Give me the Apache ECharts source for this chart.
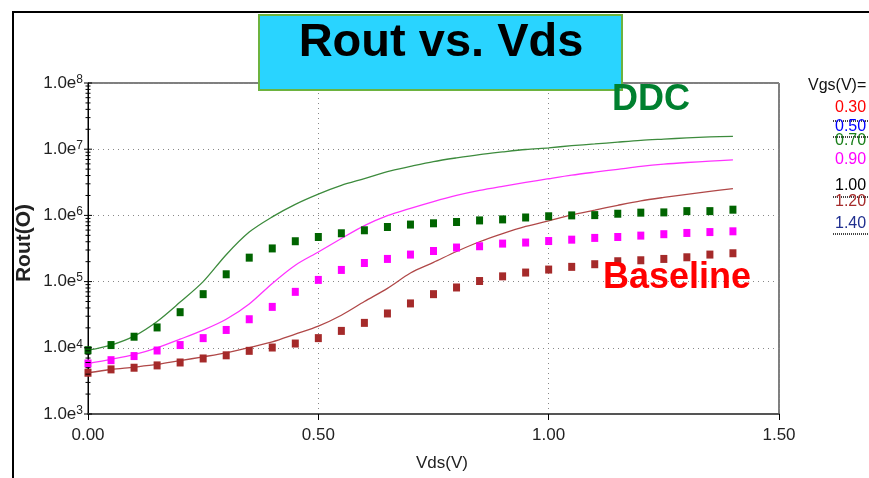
<!DOCTYPE html>
<html>
<head>
<meta charset="utf-8">
<script src="https://cdn.jsdelivr.net/npm/echarts@6/dist/echarts.min.js"></script>
<style>html,body{margin:0;padding:0;background:#fff}#c{width:869px;height:478px}</style>
</head>
<body>
<div id="c"></div>
<script>
// ---- data ----
const vds = [0.00,0.05,0.10,0.15,0.20,0.25,0.30,0.35,0.40,0.45,0.50,0.55,0.60,0.65,0.70,0.75,0.80,0.85,0.90,0.95,1.00,1.05,1.10,1.15,1.20,1.25,1.30,1.35,1.40];
// DDC (lines)
const ddc070 = [9.2e3,1.1e4,1.5e4,2.5e4,4.9e4,1.0e5,2.55e5,5.6e5,9.5e5,1.47e6,2.1e6,2.84e6,3.6e6,4.6e6,5.5e6,6.5e6,7.4e6,8.3e6,9.1e6,9.9e6,1.05e7,1.13e7,1.2e7,1.28e7,1.36e7,1.42e7,1.48e7,1.53e7,1.56e7];
const ddc090 = [5.8e3,6.7e3,7.9e3,1.0e4,1.35e4,1.85e4,2.7e4,4.6e4,9.4e4,1.77e5,2.8e5,4.47e5,7.0e5,9.9e5,1.28e6,1.62e6,2.0e6,2.38e6,2.75e6,3.15e6,3.58e6,4.05e6,4.5e6,4.97e6,5.5e6,5.95e6,6.3e6,6.6e6,6.9e6];
const ddc120 = [4.2e3,4.7e3,5.1e3,5.6e3,6.4e3,7.3e3,8.4e3,1.01e4,1.23e4,1.61e4,2.12e4,3.1e4,5.0e4,7.9e4,1.35e5,1.95e5,2.85e5,4.0e5,5.3e5,6.8e5,8.3e5,1.02e6,1.2e6,1.42e6,1.66e6,1.87e6,2.08e6,2.3e6,2.54e6];
// Baseline (squares)
const base070 = [9.2e3,1.1e4,1.47e4,2.03e4,3.45e4,6.46e4,1.29e5,2.3e5,3.17e5,4.07e5,4.72e5,5.37e5,5.96e5,6.68e5,7.27e5,7.6e5,7.95e5,8.4e5,8.7e5,9.3e5,9.7e5,1.0e6,1.01e6,1.06e6,1.1e6,1.11e6,1.16e6,1.16e6,1.22e6];
const base090 = [5.8e3,6.5e3,7.5e3,9.1e3,1.1e4,1.4e4,1.86e4,2.7e4,4.15e4,7.0e4,1.06e5,1.5e5,1.91e5,2.2e5,2.56e5,2.9e5,3.27e5,3.42e5,3.75e5,3.89e5,4.1e5,4.3e5,4.57e5,4.72e5,4.95e5,5.2e5,5.43e5,5.6e5,5.75e5];
const base120 = [4.2e3,4.72e3,5.0e3,5.42e3,6.0e3,6.9e3,7.7e3,9.0e3,1.01e4,1.16e4,1.4e4,1.8e4,2.38e4,3.3e4,4.68e4,6.46e4,8.15e4,1.02e5,1.2e5,1.37e5,1.52e5,1.67e5,1.83e5,2.03e5,2.1e5,2.2e5,2.33e5,2.56e5,2.68e5];
// legend
const vgsLabels = ['0.30','0.50','0.70','0.90','1.00','1.20','1.40'];
const vgsColors = ['#ff0000','#0000ff','#1a7f1a','#ff00ff','#000000','#a52a2a','#1f2f8f'];
// axis ticks
const xTicks = [0.00,0.50,1.00,1.50];
const yDecades = [3,4,5,6,7,8];

const FONT = "'Liberation Sans', Arial, sans-serif";
const pair = (xs, ys) => xs.map((x,i)=>[x, ys[i]]);

// log-spaced tick marks for the y axis (axis decoration)
const yTickMarks = [];
for (let d = 3; d < 8; d++) for (let k = 1; k <= 9; k++) yTickMarks.push([0, k*Math.pow(10,d), k===1?1:0]);
yTickMarks.push([0, 1e8, 1]);

const chart = echarts.init(document.getElementById('c'), null, {renderer:'canvas'});

const lineS = (name, data, color) => ({
  type:'line', name, data: pair(vds, data), symbol:'none', smooth:0.3,
  lineStyle:{color, width:1.3}, z:3, silent:true
});
const sqS = (name, data, color) => ({
  type:'scatter', name, data: pair(vds, data), symbol:'rect', symbolSize:[7,8],
  itemStyle:{color, opacity:1}, z:4, silent:true
});

const option = {
  animation:false,
  backgroundColor:'#ffffff',
  grid:{left:88, right:90, top:83, bottom:64, show:true, borderColor:'#000', borderWidth:1, backgroundColor:'transparent'},
  xAxis:{
    type:'value', min:0, max:1.5, interval:0.5,
    axisLine:{show:true, onZero:false, lineStyle:{color:'#555', width:2}},
    axisTick:{show:true, length:6, lineStyle:{color:'#000'}},
    axisLabel:{fontFamily:FONT, fontSize:17, color:'#222', margin:13,
      formatter: v => xTicks.includes(v) ? v.toFixed(2) : ''},
    splitLine:{show:true, lineStyle:{color:'#888', type:[1,4], width:1}}
  },
  yAxis:{
    type:'log', logBase:10, min:1e3, max:1e8,
    axisLine:{show:true, lineStyle:{color:'#000', width:1}},
    axisTick:{show:false},
    minorTick:{show:false},
    axisLabel:{margin:5, formatter: v => '{a|1.0e}{b|' + Math.round(Math.log10(v)) + '}',
      rich:{a:{fontFamily:FONT, fontSize:17, color:'#222'}, b:{fontFamily:FONT, fontSize:12, color:'#222', padding:[0,0,7,0]}}},
    splitLine:{show:true, lineStyle:{color:'#888', type:[1,4], width:1}}
  },
  series:[
    lineS('DDC 0.70', ddc070, '#3d8b3d'),
    lineS('DDC 0.90', ddc090, '#ff33ff'),
    lineS('DDC 1.20', ddc120, '#b04848'),
    sqS('Baseline 0.70', base070, '#006400'),
    sqS('Baseline 0.90', base090, '#ff00ff'),
    sqS('Baseline 1.20', base120, '#a52a2a'),
    {
      type:'custom', data: yTickMarks, clip:false, z:5, silent:true,
      renderItem:(params, api) => {
        const p = api.coord([0, api.value(1)]);
        const h = api.value(2) ? 4 : 2.5;
        return {type:'line', shape:{x1:p[0]-h, y1:p[1], x2:p[0]+h, y2:p[1]}, style:{stroke:'#000', lineWidth:1}};
      }
    }
  ],
  graphic:[]
};
chart.setOption(option);

// decorations
const g = [];
g.push({type:'polyline', shape:{points:[[13,478],[13,12],[869,12]]}, style:{stroke:'#000', lineWidth:2, fill:null}, z:10});
g.push({type:'rect', shape:{x:259, y:15, width:363, height:75}, style:{fill:'#29d4ff', stroke:'#6db33f', lineWidth:2}, z:20});
g.push({type:'text', x:441, y:43, style:{text:'Rout vs. Vds', font:"bold 47px "+FONT, fill:'#000', textAlign:'center', textVerticalAlign:'middle'}, z:21});
g.push({type:'text', x:651, y:100, style:{text:'DDC', font:"bold 36px "+FONT, fill:'#00802f', textAlign:'center', textVerticalAlign:'middle'}, z:21});
g.push({type:'text', x:677, y:278, style:{text:'Baseline', font:"bold 36px "+FONT, fill:'#ff0000', textAlign:'center', textVerticalAlign:'middle'}, z:21});
g.push({type:'text', x:442, y:463, style:{text:'Vds(V)', font:"17px "+FONT, fill:'#222', textAlign:'center', textVerticalAlign:'middle'}, z:21});
g.push({type:'text', x:24, y:243, rotation:Math.PI/2, style:{text:'Rout(O)', font:"bold 21px "+FONT, fill:'#222', textAlign:'center', textVerticalAlign:'middle'}, z:21});
g.push({type:'text', x:808, y:86, style:{text:'Vgs(V)=', font:"16px "+FONT, fill:'#111', textAlign:'left', textVerticalAlign:'middle'}, z:21});
const legY = [108, 127, 141, 160, 186, 202, 224];
const hatchY = [121, 137, 197, 234];
const boxes = [[99,22],[119,18],[172,25],[213,21]];
boxes.forEach(b => g.push({type:'rect', shape:{x:833, y:b[0], width:40, height:b[1]}, style:{fill:'#fff'}, z:19}));
hatchY.forEach(y => g.push({type:'line', shape:{x1:833, y1:y, x2:869, y2:y}, style:{stroke:'#444', lineWidth:2, lineDash:[1,1]}, z:20}));
vgsLabels.forEach((t,i) => g.push({type:'text', x:835, y:legY[i], style:{text:t, font:"16px "+FONT, fill:vgsColors[i], textAlign:'left', textVerticalAlign:'middle'}, z:22}));
chart.setOption({graphic:g});
</script>
</body>
</html>
